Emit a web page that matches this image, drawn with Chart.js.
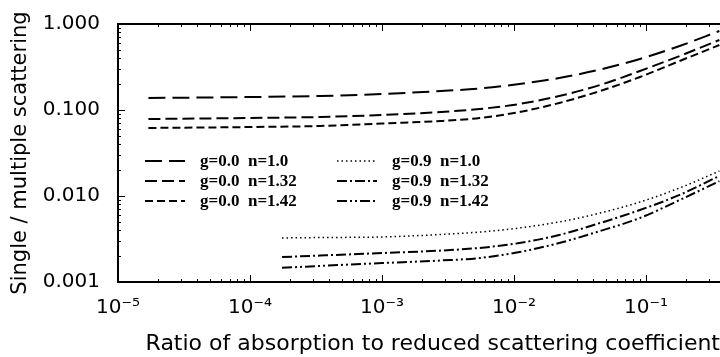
<!DOCTYPE html>
<html lang="en">
<head>
    <meta charset="UTF-8">
    <title>Single / multiple scattering</title>
    <script src="https://cdn.jsdelivr.net/npm/chart.js"></script>
    <style>
        body { margin: 0; background: #fff; overflow: hidden; }
    </style>
</head>
<body>
    <canvas id="ratioChart" width="720" height="357"></canvas>

    <script>
        // x values (ratio mu_a / mu_s')
        const ratioG0 = [1.7e-5, 1e-4, 3.4e-4, 1e-3, 2.8e-3, 5.5e-3, 0.011, 0.022, 0.045, 0.09, 0.18, 0.36];
        const ratioG9 = [1.75e-4, 3.4e-4, 1e-3, 2.8e-3, 5.5e-3, 0.011, 0.022, 0.045, 0.09, 0.18, 0.36];

        // single / multiple scattering
        const g0n100 = [0.1378, 0.1416, 0.1455, 0.1535, 0.1663, 0.1778, 0.2006, 0.2355, 0.2957, 0.3918, 0.5548, 0.829];
        const g0n132 = [0.0786, 0.0807, 0.0829, 0.0875, 0.0948, 0.1027, 0.1174, 0.1455, 0.1953, 0.2841, 0.4245, 0.6516];
        const g0n142 = [0.0618, 0.0634, 0.0652, 0.0697, 0.0745, 0.0807, 0.0948, 0.1206, 0.1663, 0.2418, 0.3714, 0.570];
        const g9n100 = [0.00325, 0.00329, 0.00334, 0.00357, 0.00381, 0.00425, 0.00499, 0.00634, 0.00851, 0.0124, 0.0195];
        const g9n132 = [0.00195, 0.00203, 0.00217, 0.00232, 0.00249, 0.00284, 0.00352, 0.00485, 0.00687, 0.0103, 0.0171];
        const g9n142 = [0.00146, 0.00154, 0.00166, 0.00178, 0.0019, 0.00223, 0.00284, 0.00392, 0.00555, 0.00898, 0.0149];

        const xTickValues = [1e-5, 1e-4, 1e-3, 1e-2, 1e-1];
        const xTickLabels = ['10\u207B\u2075', '10\u207B\u2074', '10\u207B\u00B3', '10\u207B\u00B2', '10\u207B\u00B9'];
        const yTickValues = [0.001, 0.01, 0.1, 1];
        const yTickLabels = ['0.001', '0.010', '0.100', '1.000'];

        const seriesLabels = ['g=0.0  n=1.0', 'g=0.0  n=1.32', 'g=0.0  n=1.42',
                              'g=0.9  n=1.0', 'g=0.9  n=1.32', 'g=0.9  n=1.42'];

        const pts = (xs, ys) => xs.map((x, i) => ({x: x, y: ys[i]}));

        function series(label, xs, ys, dash, width) {
            return {
                label: label,
                data: pts(xs, ys),
                borderColor: '#000',
                borderWidth: width,
                borderDash: dash,
                pointRadius: 0,
                fill: false,
                cubicInterpolationMode: 'monotone'
            };
        }

        // inward tick marks, top frame line and the two-column legend
        const frame = {
            id: 'frame',
            afterDraw(chart) {
                const ctx = chart.ctx;
                const a = chart.chartArea;
                const sx = chart.scales.x, sy = chart.scales.y;
                ctx.save();
                ctx.strokeStyle = '#000';
                ctx.lineWidth = 1;
                ctx.beginPath();
                for (let e = -5; e <= 0; e++) {
                    for (let m = 1; m <= 9; m++) {
                        const v = m * Math.pow(10, e);
                        const len = m === 1 ? 7 : 3;
                        if (v >= sx.min && v <= sx.max) {
                            const px = Math.round(sx.getPixelForValue(v)) + 0.5;
                            ctx.moveTo(px, a.bottom); ctx.lineTo(px, a.bottom - len);
                            ctx.moveTo(px, a.top); ctx.lineTo(px, a.top + len);
                        }
                        if (v >= sy.min && v <= sy.max) {
                            const py = Math.round(sy.getPixelForValue(v)) + 0.5;
                            ctx.moveTo(a.left, py); ctx.lineTo(a.left + len, py);
                        }
                    }
                }
                ctx.stroke();
                ctx.lineWidth = 2;
                ctx.beginPath();
                ctx.moveTo(a.left, a.top);
                ctx.lineTo(a.right, a.top);
                ctx.stroke();

                // legend
                ctx.font = 'bold 17px "Liberation Serif"';
                ctx.textBaseline = 'middle';
                ctx.fillStyle = '#000';
                chart.data.datasets.forEach((ds, i) => {
                    const col = Math.floor(i / 3), row = i % 3;
                    const lx = col === 0 ? 145 : 337;
                    const ly = 161 + row * 20;
                    ctx.lineWidth = ds.borderWidth;
                    ctx.setLineDash(ds.borderDash);
                    ctx.beginPath();
                    ctx.moveTo(lx, ly);
                    ctx.lineTo(lx + 40, ly);
                    ctx.stroke();
                    ctx.setLineDash([]);
                    ctx.fillText(ds.label, lx + 55, ly + 1);
                });
                ctx.restore();
            }
        };

        const tickFont = {family: '"DejaVu Sans"', size: 20};

        new Chart(document.getElementById('ratioChart').getContext('2d'), {
            type: 'line',
            data: {
                datasets: [
                    series(seriesLabels[0], ratioG0, g0n100, [17, 7], 2),
                    series(seriesLabels[1], ratioG0, g0n132, [12, 5], 2),
                    series(seriesLabels[2], ratioG0, g0n142, [8, 4], 2),
                    series(seriesLabels[3], ratioG9, g9n100, [1.5, 3], 1.5),
                    series(seriesLabels[4], ratioG9, g9n132, [10, 3, 2, 3], 2),
                    series(seriesLabels[5], ratioG9, g9n142, [10, 3, 2, 3, 2, 3], 2)
                ]
            },
            options: {
                responsive: false,
                animation: false,
                layout: { padding: { top: 24, right: 0, left: 0, bottom: 0 } },
                plugins: {
                    legend: { display: false },
                    tooltip: { enabled: false }
                },
                scales: {
                    x: {
                        type: 'logarithmic',
                        min: 1e-5,
                        max: 0.364,
                        afterBuildTicks: s => { s.ticks = xTickValues.map(v => ({value: v})); },
                        afterFit: s => { s.height = 75; },
                        grid: { display: false },
                        border: { display: true, color: '#000', width: 2 },
                        ticks: {
                            color: '#000',
                            font: tickFont,
                            padding: 6,
                            maxRotation: 0,
                            autoSkip: false,
                            callback: (v, i) => xTickLabels[i]
                        },
                        title: {
                            display: true,
                            text: 'Ratio of absorption to reduced scattering coefficient',
                            align: 'end',
                            color: '#000',
                            font: {family: '"DejaVu Sans"', size: 22},
                            padding: { top: 7, bottom: 0 }
                        }
                    },
                    y: {
                        type: 'logarithmic',
                        min: 0.001,
                        max: 1,
                        afterBuildTicks: s => { s.ticks = yTickValues.map(v => ({value: v})); },
                        afterFit: s => { s.width = 118; },
                        grid: { display: false },
                        border: { display: true, color: '#000', width: 2 },
                        ticks: {
                            color: '#000',
                            font: tickFont,
                            padding: 10,
                            autoSkip: false,
                            callback: (v, i) => yTickLabels[i]
                        },
                        title: {
                            display: true,
                            text: 'Single / multiple scattering',
                            color: '#000',
                            font: {family: '"DejaVu Sans"', size: 21},
                            padding: { top: 8, bottom: 0 }
                        }
                    }
                }
            },
            plugins: [frame]
        });
    </script>
</body>
</html>
